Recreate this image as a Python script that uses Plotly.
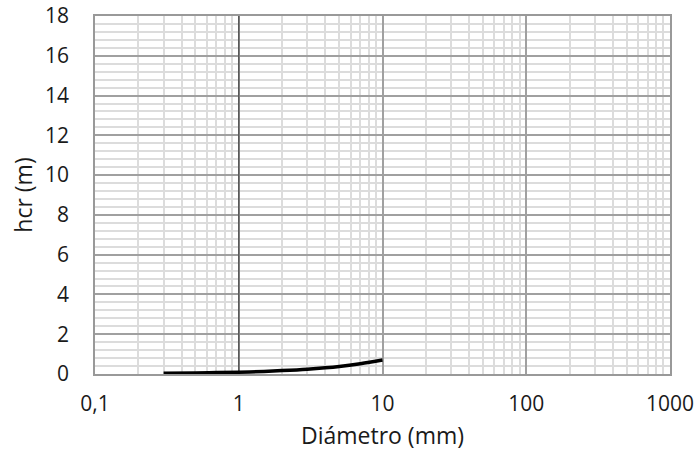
import plotly.graph_objects as go

# Critical height vs. grain diameter
diametro_mm = [0.3, 0.5, 0.7, 1, 1.5, 2, 3, 4, 5, 7, 10]
hcr_m = [0.04, 0.05, 0.07, 0.09, 0.13, 0.17, 0.24, 0.31, 0.38, 0.52, 0.7]

x_ticks = [0.1, 1, 10, 100, 1000]
x_tick_text = ["0,1", "1", "10", "100", "1000"]
y_ticks = [0, 2, 4, 6, 8, 10, 12, 14, 16, 18]

font_family = "Open Sans, Liberation Sans, sans-serif"

fig = go.Figure()

# darker reference line where the vertical axis crosses (x = 1)
fig.add_trace(go.Scatter(
    x=[1, 1], y=[0, 18], mode="lines",
    line=dict(color="#595959", width=1.5),
    hoverinfo="skip", showlegend=False,
))

fig.add_trace(go.Scatter(
    x=diametro_mm, y=hcr_m, mode="lines",
    line=dict(color="#000000", width=3.5, shape="spline"),
    showlegend=False,
))

fig.update_layout(
    width=699, height=459,
    margin=dict(l=95, r=29, t=16, b=85),
    paper_bgcolor="white", plot_bgcolor="white",
    separators=",.",
    font=dict(family=font_family, size=21, color="#1a1a1a"),
)

fig.update_xaxes(
    type="log", range=[-1, 3], automargin=False,
    tickvals=x_ticks, ticktext=x_tick_text,
    showgrid=True, gridcolor="#a0a0a0", gridwidth=1.5,
    minor=dict(dtick="D1", showgrid=True, gridcolor="#dcdcdc", gridwidth=1.5),
    showline=True, linecolor="#999999", linewidth=1.5, mirror=True,
    ticks="outside", ticklen=10, tickcolor="rgba(0,0,0,0)",
    zeroline=False,
    title=dict(text="Diámetro (mm)", font=dict(size=23), standoff=12),
)

fig.update_yaxes(
    range=[0, 18], tickvals=y_ticks, automargin=False,
    showgrid=True, gridcolor="#a0a0a0", gridwidth=1.5,
    minor=dict(dtick=0.4, showgrid=True, gridcolor="#dcdcdc", gridwidth=1.5),
    showline=True, linecolor="#999999", linewidth=1.5, mirror=True,
    ticks="outside", ticklen=20, tickcolor="rgba(0,0,0,0)",
    zeroline=False,
    title=dict(text="hcr (m)", font=dict(size=23), standoff=6),
)

fig.write_html("out.html")
